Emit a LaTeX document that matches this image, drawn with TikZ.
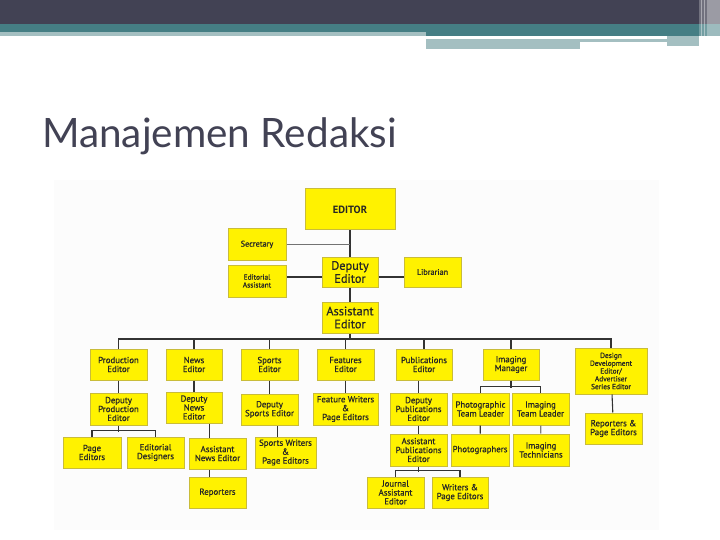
\documentclass[tikz,border=0pt]{standalone}
\usepackage{fontspec}
\setmainfont{PT Sans}
\newfontfamily\boxfont{PT Sans}[FakeBold=0.7]
\newfontfamily\titlefont{Lato}
\usepackage{xcolor}
\usetikzlibrary{positioning, calc}

\definecolor{slate}{HTML}{424254}
\definecolor{teal}{HTML}{457E84}
\definecolor{paleteal}{HTML}{A4BFC1}
\definecolor{boxfill}{HTML}{FFF200}
\definecolor{boxline}{HTML}{C9BC3A}
\definecolor{wire}{HTML}{333333}

\tikzset{
  post/.style={draw=boxline, fill=boxfill, line width=1pt, align=center,
    inner sep=0pt, text=black!85, font=\boxfont\fontsize{8.8}{8.9}\selectfont},
  big/.style={font=\boxfont\fontsize{12.3}{13}\selectfont},
  small/.style={font=\boxfont\fontsize{7.4}{7.8}\selectfont},
  lone/.style={font=\boxfont\fontsize{8.2}{8.6}\selectfont},
  link/.style={draw=wire, line width=1.1pt}
}

\begin{document}
\begin{tikzpicture}[x=1pt, y=-1pt]
\useasboundingbox (0,0) rectangle (720,540);
\fill[white] (0,0) rectangle (720,540);

% slide header bars
\fill[slate] (0,0) rectangle (720,24);
\fill[teal] (0,24) rectangle (720,32);
\fill[teal] (426,32) rectangle (720,36);
\fill[paleteal] (0,32) rectangle (426,36);
\fill[paleteal] (426,39) rectangle (667,42);
\fill[paleteal] (426,42) rectangle (580,49);
\fill[paleteal] (667,36) rectangle (699,46);
\fill[white, opacity=.25] (699,0) rectangle (720,48);
\fill[white, opacity=.3] (707,0) rectangle (720,48);
\draw[white, opacity=.4, line width=1pt] (701,0) -- (701,46) (704,0) -- (704,46);

% title
\node[anchor=base west, inner sep=0pt, text=slate,
  font=\titlefont\fontsize{40.5}{40}\selectfont] (title) at (42,148) {Manajemen Redaksi};

% chart backdrop
\fill[black!1] (54,180) rectangle (659,530);

% top of the chart
\node[post, minimum width=90, minimum height=41, font=\bfseries\fontsize{10.5}{11}\selectfont] (ed) at (350,209.5) {EDITOR};
\node[post, lone, minimum width=58, minimum height=31] (sec) at (257,244.5) {Secretary};
\node[post, small, minimum width=58, minimum height=32] (edas) at (257,281) {Editorial\\Assistant};
\node[post, big, minimum width=56, minimum height=30] (dep) at (350,272) {Deputy\\Editor};
\node[post, lone, minimum width=57, minimum height=30] (lib) at (432.5,272) {Librarian};
\node[post, big, minimum width=56, minimum height=31] (asst) at (350,317.5) {Assistant\\Editor};

% section editors
\node[post, minimum width=57, minimum height=31] (prod) at (118.5,364.5) {Production\\Editor};
\node[post, minimum width=56, minimum height=31] (news) at (194,364.5) {News\\Editor};
\node[post, minimum width=57, minimum height=31] (sports) at (269.5,364.5) {Sports\\Editor};
\node[post, minimum width=57, minimum height=31] (feat) at (345.5,364.5) {Features\\Editor};
\node[post, minimum width=56, minimum height=31] (pub) at (424,364.5) {Publications\\Editor};
\node[post, minimum width=56, minimum height=31] (img) at (511,364.5) {Imaging\\Manager};
\node[post, small, minimum width=72, minimum height=46] (design) at (611,371) {Design\\Development\\Editor/\\Advertiser\\Series Editor};

% deputies
\node[post, minimum width=57, minimum height=32] (dprod) at (118.5,409) {Deputy\\Production\\Editor};
\node[post, minimum width=56, minimum height=31] (dnews) at (194,407.5) {Deputy\\News\\Editor};
\node[post, minimum width=57, minimum height=31] (dsports) at (269.5,409.5) {Deputy\\Sports Editor};
\node[post, minimum width=65, minimum height=32] (featw) at (345.5,409) {Feature Writers\\\&\\Page Editors};
\node[post, minimum width=57, minimum height=32] (dpub) at (418.5,409) {Deputy\\Publications\\Editor};
\node[post, minimum width=57, minimum height=32] (photl) at (480.5,409) {Photographic\\Team Leader};
\node[post, minimum width=57, minimum height=32] (imtl) at (540.5,409) {Imaging\\Team Leader};
\node[post, minimum width=57, minimum height=31] (repped) at (613.5,428.5) {Reporters \&\\Page Editors};

% third row
\node[post, minimum width=58, minimum height=31] (page) at (92,452.5) {Page\\Editors};
\node[post, minimum width=57, minimum height=31] (desig) at (155.5,452.5) {Editorial\\Designers};
\node[post, minimum width=57, minimum height=31] (asnews) at (217.5,453.5) {Assistant\\News Editor};
\node[post, minimum width=61, minimum height=31] (sw) at (285.5,452.5) {Sports Writers\\\&\\Page Editors};
\node[post, minimum width=57, minimum height=32] (aspub) at (418.5,450) {Assistant\\Publications\\Editor};
\node[post, minimum width=58, minimum height=32] (photo) at (480,450) {Photographers};
\node[post, minimum width=56, minimum height=32] (imtech) at (541,450) {Imaging\\Technicians};

% bottom row
\node[post, minimum width=57, minimum height=31] (rep) at (217.5,492.5) {Reporters};
\node[post, minimum width=57, minimum height=31] (journal) at (395.5,492.5) {Journal\\Assistant\\Editor};
\node[post, minimum width=56, minimum height=31] (wpe) at (460,492.5) {Writers \&\\Page Editors};

% connectors
\coordinate (bus) at (350,339);
\draw[link] (ed) -- (dep);
\draw[link] (dep) -- (asst);
\draw[link] (asst) -- (bus);
\draw[draw=black!55, line width=1pt] (sec.east) -- (sec.east -| ed.south);
\draw[link] ([yshift=-5pt]dep.west) -- ([yshift=-5pt]dep.west -| edas.east);
\draw[link] ([yshift=-5pt]dep.east) -- ([yshift=-5pt]dep.east -| lib.west);
\draw[link] (prod.north) |- (bus -| design) -- (design.north);
\foreach \n in {news, sports, feat, pub, img}
  \draw[link] (\n.north) -- (\n.north |- bus);
\draw[link] (prod) -- (dprod);
\draw[link] (news) -- (dnews);
\draw[link] (sports) -- (dsports);
\draw[link] (feat) -- (featw);
\draw[link] (dpub.north) -- (dpub.north |- pub.south);
\draw[link] (design) -- (repped);
\draw[link] (dpub) -- (aspub);
\draw[link] (photl) -- (photo);
\draw[link, draw=black!50] (imtl) -- (imtech);
% forks
\draw[link] (dprod.south) -- ++(0,6);
\draw[link] (page.north) -- ++(0,-6) -| (desig.north);
\draw[link] (img.south) -- ++(0,7);
\draw[link] (photl.north) -- ++(0,-6) -| (imtl.north);
\draw[link] (aspub.south) -- ++(0,5);
\draw[link] (journal.north) -- ++(0,-6) -| (wpe.north);
\draw[link] ([xshift=-8pt]asnews.north) -- ([xshift=-8pt]asnews.north |- dnews.south);
\draw[link] ([xshift=-8pt]rep.north) -- ([xshift=-8pt]asnews.south);
\draw[link] ([xshift=-8pt]sw.north) -- ([xshift=-8pt]sw.north |- dsports.south);
\end{tikzpicture}
\end{document}
